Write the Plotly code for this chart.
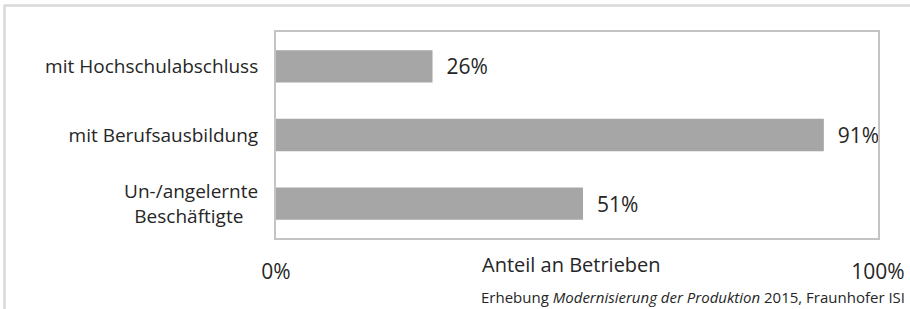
import plotly.graph_objects as go

categories = ["Un-/angelernte<br>Beschäftigte\u00a0\u00a0\u00a0", "mit Berufsausbildung", "mit Hochschulabschluss"]
values = [51, 91, 26]
value_labels = ["51%", "91%", "26%"]
tick_vals = [0, 100]
tick_text = ["0%", "100%"]
axis_title = "Anteil an Betrieben"
source = "Erhebung <i>Modernisierung der Produktion</i> 2015, Fraunhofer ISI"

FONT = "Open Sans, Noto Sans, sans-serif"
TXT = "#262626"

fig = go.Figure(go.Bar(
    x=values, y=categories, orientation="h",
    marker=dict(color="#a6a6a6", line=dict(width=0)),
    width=0.47,
    text=value_labels, texttemplate="\u00a0\u00a0%{text}",
    textposition="outside", cliponaxis=False,
    textfont=dict(family=FONT, size=21, color=TXT),
))

W, H = 910, 309
L, R, T, B = 276, 32, 32, 71
pw, ph = W - L - R, H - T - B

def px(xp):
    return (xp - L) / pw

def py(yp):
    return (H - B - yp) / ph

fig.update_layout(
    width=W, height=H,
    margin=dict(l=L, r=R, t=T, b=B, autoexpand=False),
    paper_bgcolor="white", plot_bgcolor="white",
    showlegend=False,
    font=dict(family=FONT, size=19, color=TXT),
    xaxis=dict(
        range=[0, 100], tickvals=tick_vals, ticktext=tick_text,
        showgrid=False, zeroline=False, automargin=False,
        showline=True, linecolor="#c4c4c4", linewidth=2, mirror=True,
        ticks="", ticklabelstandoff=14,
        tickfont=dict(family=FONT, size=21, color=TXT),
    ),
    yaxis=dict(
        range=[-0.5, 2.5],
        showgrid=False, zeroline=False, automargin=False,
        showline=True, linecolor="#c4c4c4", linewidth=2, mirror=True,
        ticks="", ticklabelstandoff=12,
        tickfont=dict(family=FONT, size=19, color=TXT),
    ),
    annotations=[
        dict(text=axis_title, xref="paper", yref="paper",
             x=px(571), y=py(264), xanchor="center", yanchor="middle",
             showarrow=False, font=dict(family=FONT, size=20, color=TXT)),
        dict(text=source, xref="paper", yref="paper",
             x=px(907), y=py(297), xanchor="right", yanchor="middle",
             showarrow=False, font=dict(family=FONT, size=15, color=TXT)),
    ],
    shapes=[
        dict(type="line", xref="paper", yref="paper",
             x0=px(4.5), x1=px(4.5), y0=py(312), y1=py(5.5),
             line=dict(color="#d9d9d9", width=2.5)),
        dict(type="line", xref="paper", yref="paper",
             x0=px(3.5), x1=px(912), y0=py(5.5), y1=py(5.5),
             line=dict(color="#d9d9d9", width=2.5)),
    ],
)

fig.write_html("out.html",
               config={"displayModeBar": False},
               post_script="document.body.style.margin='0';document.body.style.overflow='hidden';")
